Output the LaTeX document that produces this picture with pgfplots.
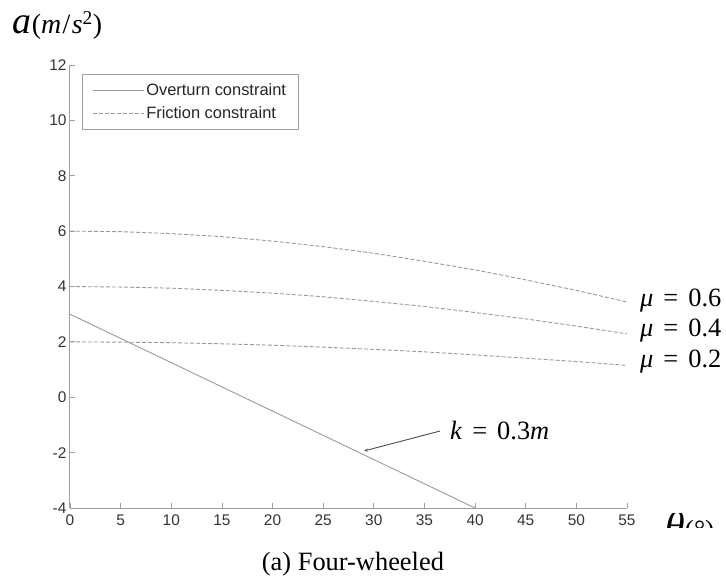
\documentclass[border=0pt]{standalone}
\usepackage{fontspec}
\setmainfont{Liberation Serif}
\newfontfamily\arial{Liberation Sans}
\usepackage{pgfplots}
\usetikzlibrary{arrows.meta}
\pgfplotsset{compat=1.18}
\definecolor{linegray}{HTML}{9A9A9A}
\definecolor{axgray}{HTML}{A0A0A0}
\begin{document}
\begin{tikzpicture}
\useasboundingbox (-70bp,-70bp) rectangle (656bp,508bp);
\begin{axis}[
  scale only axis,
  width=557bp, height=443bp,
  xmin=0, xmax=55, ymin=-4, ymax=12,
  xtick={0,5,...,55}, ytick={-4,-2,...,12},
  axis lines*=left,
  axis line style={axgray, line width=1bp},
  tick style={axgray, line width=0.8bp},
  tick align=inside,
  major tick length=5bp,
  /pgf/number format/assume math mode=true,
  ticklabel style={font=\arial\fontsize{15.5}{15.5}\selectfont, text=black!80},
  xticklabel style={yshift=-3bp},
  clip=false,
  legend style={at={(0.0215,0.980)}, anchor=north west, draw=axgray, line width=0.8bp,
    font=\arial\fontsize{16.5}{18}\selectfont, text=black!85,
    inner xsep=10bp, inner ysep=7bp, row sep=6bp, cells={anchor=west}},
  legend image code/.code={\draw[#1] (-4bp,0bp) -- (47bp,0bp);},
]
\addplot[linegray, line width=0.9bp] coordinates {(0,3) (5,2.125) (10,1.25) (15,0.375) (20,-0.5) (25,-1.375) (30,-2.25) (35,-3.125) (40,-4)};
\addlegendentry{Overturn constraint}
\addplot[linegray, line width=0.9bp, dash pattern=on 4bp off 2bp] coordinates {(0,6.00) (5,5.98) (10,5.91) (15,5.80) (20,5.64) (25,5.44) (30,5.20) (35,4.91) (40,4.60) (45,4.24) (50,3.86) (55,3.44)};
\addlegendentry{Friction constraint}
\addplot[linegray, line width=0.9bp, dash pattern=on 4bp off 2bp, forget plot] coordinates {(0,4.00) (5,3.98) (10,3.94) (15,3.86) (20,3.76) (25,3.63) (30,3.46) (35,3.28) (40,3.06) (45,2.83) (50,2.57) (55,2.29)};
\addplot[linegray, line width=0.9bp, dash pattern=on 4bp off 2bp, forget plot] coordinates {(0,2.00) (5,1.99) (10,1.97) (15,1.93) (20,1.88) (25,1.81) (30,1.73) (35,1.64) (40,1.53) (45,1.41) (50,1.29) (55,1.15)};
% annotations
\node[anchor=base west, inner sep=0pt, font=\fontsize{26.5}{26}\selectfont] at (axis cs:56.28,3.26) {\textit{μ}\hspace{0.38em}=\hspace{0.38em}0.6};
\node[anchor=base west, inner sep=0pt, font=\fontsize{26.5}{26}\selectfont] at (axis cs:56.28,2.18) {\textit{μ}\hspace{0.38em}=\hspace{0.38em}0.4};
\node[anchor=base west, inner sep=0pt, font=\fontsize{26.5}{26}\selectfont] at (axis cs:56.28,1.09) {\textit{μ}\hspace{0.38em}=\hspace{0.38em}0.2};
\node[anchor=base west, inner sep=0pt, font=\fontsize{26.5}{26}\selectfont] at (axis cs:37.52,-1.51) {\textit{k}\hspace{0.38em}=\hspace{0.38em}0.3\textit{m}};
\draw[black!70, line width=0.9bp, -{Stealth[length=4bp,width=3bp]}] (axis cs:36.54,-1.22) -- (axis cs:29.03,-1.94);
\node[anchor=base west, inner sep=0pt] at (axis cs:-5.73,13.12) {{\fontsize{38}{38}\selectfont\textit{a}}\hspace{0.08em}{\fontsize{28}{28}\selectfont(\textit{m}\hspace{0.05em}/\hspace{0.05em}\textit{s}\textsuperscript{2})}};
\begin{scope}
\clip (axis cs:57,-4.72) rectangle (axis cs:66,-4.2);
\node[anchor=base west, inner sep=0pt] at (axis cs:58.75,-5.12) {{\fontsize{40}{40}\selectfont\textit{θ}}{\fontsize{28}{28}\selectfont(°)}};
\end{scope}
\node[anchor=base, inner sep=0pt, font=\fontsize{26.5}{26}\selectfont] at (axis cs:27.94,-6.26) {(a) Four-wheeled};
\end{axis}
\end{tikzpicture}
\end{document}
